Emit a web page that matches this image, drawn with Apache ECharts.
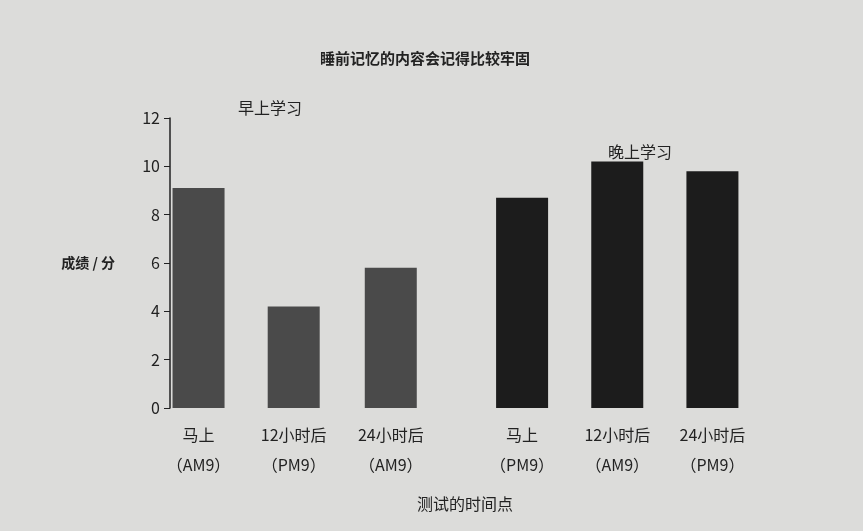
<!DOCTYPE html>
<html lang="zh">
<head>
    <meta charset="UTF-8">
    <title>睡前记忆</title>
    <script src="https://cdnjs.cloudflare.com/ajax/libs/echarts/6.0.0/echarts.min.js"></script>
    <style>
        body { margin: 0; background: #dcdcda; }
        #main { width: 863px; height: 531px; }
    </style>
</head>
<body>
<div id="main"></div>
<script>
    var positions = [0, 1, 2.02, 3.4, 4.4, 5.4];
    var labels = ['马上\n（AM9）', '12小时后\n（PM9）', '24小时后\n（AM9）',
                  '马上\n（PM9）', '12小时后\n（AM9）', '24小时后\n（PM9）'];
    var morning = [9.1, 4.2, 5.8];
    var evening = [8.7, 10.2, 9.8];
    var yTicks = [0, 2, 4, 6, 8, 10, 12];

    var chart = echarts.init(document.getElementById('main'));
    var font = '"Noto Sans CJK SC", sans-serif';

    var morningData = [], eveningData = [];
    for (var i = 0; i < 3; i++) {
        morningData.push([positions[i], morning[i]]);
        eveningData.push([positions[i + 3], evening[i]]);
    }

    chart.setOption({
        backgroundColor: '#dcdcda',
        textStyle: { fontFamily: font, color: '#222' },
        title: {
            text: '睡前记忆的内容会记得比较牢固',
            left: 420, top: 46, textAlign: 'center',
            textStyle: { fontSize: 15, fontWeight: 'bold', color: '#222', fontFamily: font }
        },
        grid: { left: 170, right: 103, top: 118, bottom: 123 },
        xAxis: {
            type: 'value', min: -0.3, max: 5.9,
            splitLine: { show: false },
            axisLine: { show: false },
            axisTick: { show: false },
            axisLabel: {
                customValues: positions,
                margin: 12, lineHeight: 30, fontSize: 16, color: '#222',
                formatter: function (v) {
                    var k = positions.indexOf(v);
                    return k >= 0 ? labels[k] : '';
                }
            },
            name: '测试的时间点', nameLocation: 'middle', nameGap: 88,
            nameTextStyle: { fontSize: 16, color: '#222' }
        },
        yAxis: {
            type: 'value', min: 0, max: 12, interval: 2,
            splitLine: { show: false },
            axisLine: { show: true, onZero: false, lineStyle: { color: '#222', width: 1.5 } },
            axisTick: { show: true, inside: false, length: 6, lineStyle: { color: '#222' } },
            axisLabel: { fontSize: 16, color: '#222', margin: 10,
                formatter: function (v) { return yTicks.indexOf(v) >= 0 ? v : ''; } },
            name: '成绩 / 分', nameLocation: 'middle', nameGap: 55, nameRotate: 0,
            nameTextStyle: { fontSize: 14, fontWeight: 'bold', color: '#222' }
        },
        series: [
            { type: 'bar', data: morningData, barWidth: 52,
              itemStyle: { color: '#4a4a4a' } },
            { type: 'bar', data: eveningData, barWidth: 52, barGap: '-100%',
              itemStyle: { color: '#1c1c1c' } }
        ],
        graphic: [
            { type: 'text', left: 238, top: 100,
              style: { text: '早上学习', fontSize: 16, fill: '#222', fontFamily: font } },
            { type: 'text', left: 608, top: 144,
              style: { text: '晚上学习', fontSize: 16, fill: '#222', fontFamily: font } }
        ]
    });
</script>
</body>
</html>
